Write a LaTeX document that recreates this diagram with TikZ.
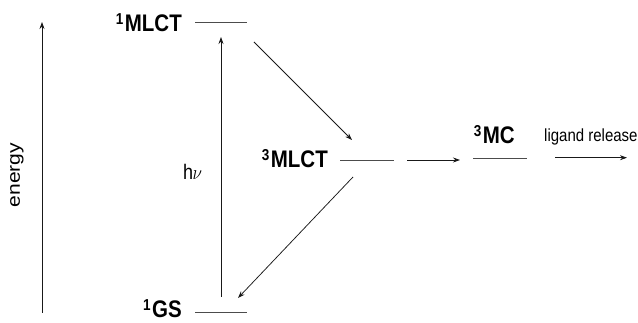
\documentclass[tikz,border=0pt]{standalone}
\usepackage{fontspec}
\setmainfont{Liberation Sans}
\usetikzlibrary{arrows.meta}
\newcommand{\supnum}[1]{\raisebox{6.8pt}{\fontsize{13.5}{13.5}\selectfont\bfseries #1}\hspace{1.5pt}}
\newcommand{\vstr}[1]{\scalebox{1}[1.17]{#1}}
\begin{document}
\begin{tikzpicture}[x=1pt,y=-1pt,
  lvl/.style={line width=1pt, draw=black!70},
  arr/.style={line width=0.75pt, draw=black!90, -{Stealth[length=7pt,width=5pt]}},
  lab/.style={font=\fontsize{20.5}{20.5}\selectfont\bfseries, inner sep=0pt, anchor=base east},
  txt/.style={font=\fontsize{15}{15}\selectfont, inner sep=0pt}]
\useasboundingbox (0,0) rectangle (638,323);
% energy axis
\coordinate (e0) at (42,313);
\coordinate (e1) at (42,22);
\draw[arr] (e0) -- (e1);
\node[inner sep=0pt, font=\fontsize{18}{18}\selectfont, rotate=90] (energy) at (17,175) {\scalebox{1.17}[1]{energy}};
% levels
\node[lab] (s1) at (182,32) {\vstr{\supnum{1}MLCT}};
\coordinate (s1a) at (195,23); \coordinate (s1b) at (247,23);
\draw[lvl] (s1a) -- (s1b);
\node[lab] (t1) at (328,168) {\vstr{\supnum{3}MLCT}};
\coordinate (t1a) at (340,160.5); \coordinate (t1b) at (394,160.5);
\draw[lvl] (t1a) -- (t1b);
\node[lab] (mc) at (515,144) {\vstr{\supnum{3}MC}};
\coordinate (mca) at (473,158.5); \coordinate (mcb) at (527,158.5);
\draw[lvl] (mca) -- (mcb);
\node[lab] (gs) at (182,318) {\vstr{\supnum{1}GS}};
\coordinate (gsa) at (195,313); \coordinate (gsb) at (247,313);
\draw[lvl] (gsa) -- (gsb);
% arrows
\coordinate (hv0) at (221,297); \coordinate (hv1) at (221,37);
\draw[arr] (hv0) -- (hv1);
\node[inner sep=0pt, anchor=base west, font=\fontsize{18}{18}\selectfont] (hv) at (183,180) {\vstr{h\kern-0.5pt$\nu$}};
\coordinate (isc0) at (254,42); \coordinate (isc1) at (352,140);
\draw[arr] (isc0) -- (isc1);
\coordinate (dec0) at (353,177); \coordinate (dec1) at (238,298);
\draw[arr] (dec0) -- (dec1);
\coordinate (mc0) at (407,160); \coordinate (mc1) at (460,160);
\draw[arr] (mc0) -- (mc1);
\node[txt, anchor=base west] (lr) at (544,141.5) {\vstr{ligand release}};
\coordinate (lr0) at (555,157.7); \coordinate (lr1) at (627,157.7);
\draw[arr] (lr0) -- (lr1);
\end{tikzpicture}
\end{document}
